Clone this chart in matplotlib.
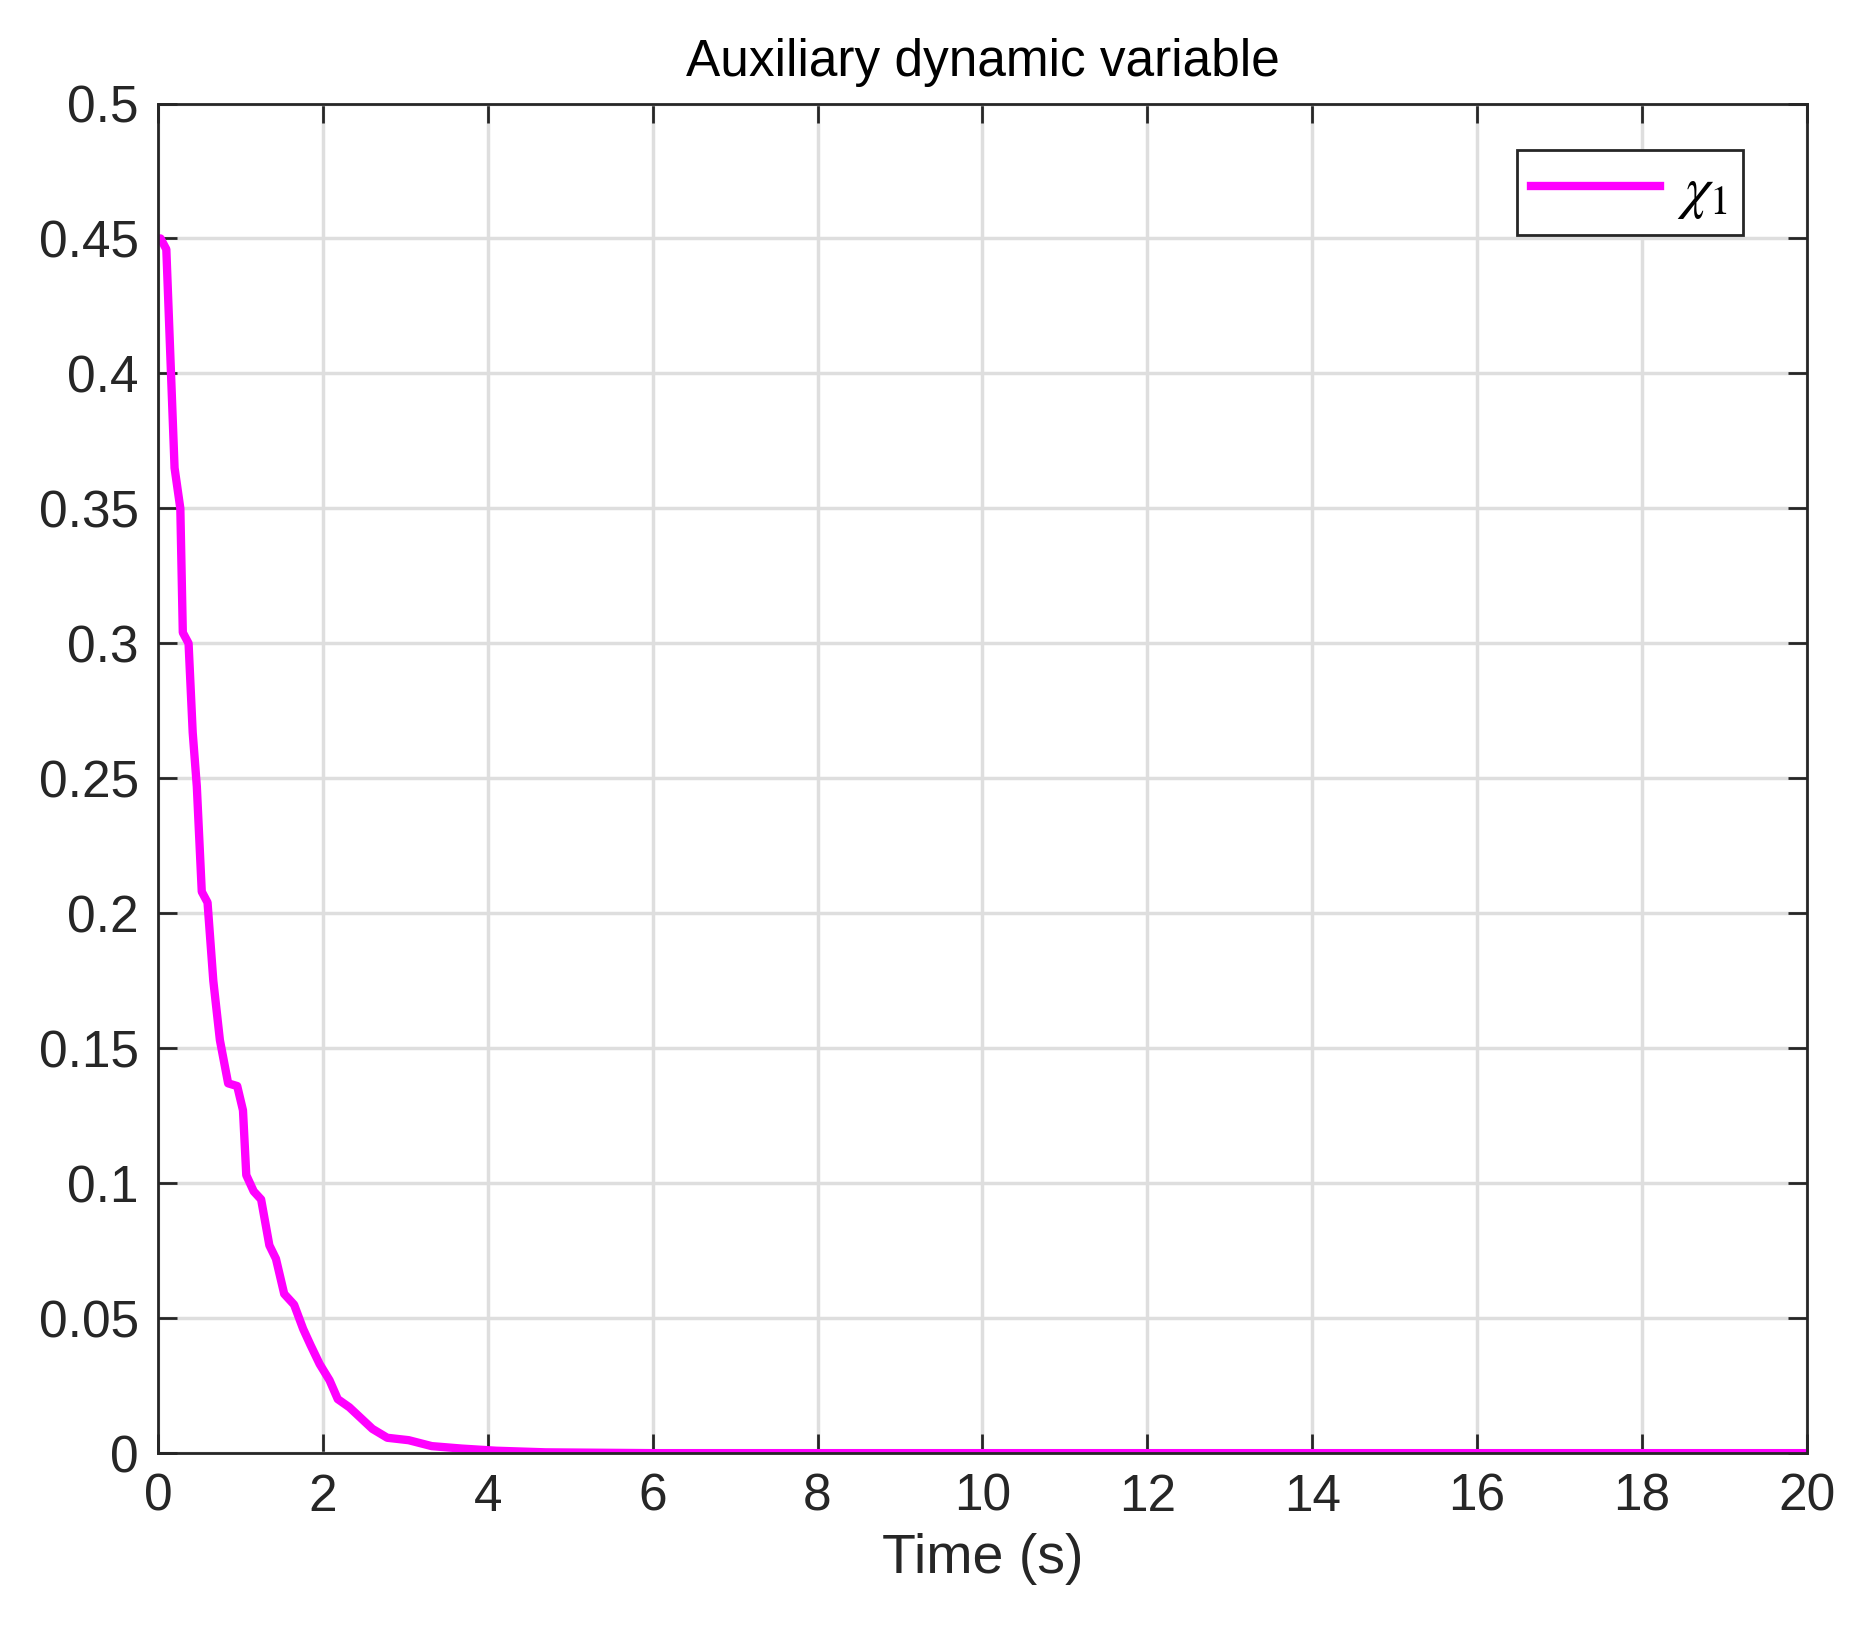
import matplotlib.pyplot as plt
import numpy as np

plt.rcParams['font.family'] = ['Liberation Sans', 'DejaVu Sans']
plt.rcParams['mathtext.fontset'] = 'stix'

t = [0, 0.03, 0.1, 0.2, 0.27, 0.3, 0.37, 0.42, 0.47, 0.53, 0.6, 0.67, 0.75, 0.85,
     0.96, 1.03, 1.07, 1.16, 1.25, 1.35, 1.43, 1.53, 1.65, 1.76, 1.85, 1.96, 2.08,
     2.18, 2.32, 2.46, 2.6, 2.78, 3.04, 3.32, 3.68, 4.1, 4.7, 6, 10, 20]
chi1 = [0.45, 0.45, 0.446, 0.365, 0.35, 0.304, 0.3, 0.267, 0.247, 0.208, 0.204,
        0.175, 0.153, 0.137, 0.136, 0.127, 0.103, 0.097, 0.094, 0.077, 0.072, 0.059,
        0.055, 0.046, 0.040, 0.033, 0.027, 0.020, 0.017, 0.013, 0.009, 0.0057,
        0.0048, 0.0026, 0.0017, 0.0009, 0.0003, 0.0, 0.0, 0.0]

fig = plt.figure(figsize=(18.51, 16.30), dpi=100)
ax = fig.add_axes([0.0854, 0.1085, 0.8907, 0.828])
ax.plot(t, chi1, color='#ff00ff', lw=6, label=r'$\chi_1$')

ax.set_xlim(0, 20)
ax.set_ylim(0, 0.5)
ax.set_xticks(np.arange(0, 21, 2))
ax.set_yticks(np.arange(0, 0.51, 0.05))
ax.set_yticklabels(['0', '0.05', '0.1', '0.15', '0.2', '0.25', '0.3', '0.35', '0.4', '0.45', '0.5'])
ax.grid(True, color='#dedede', lw=2.5)
ax.set_axisbelow(True)
ax.tick_params(direction='in', length=14, width=2, top=True, right=True,
               labelsize=37, colors='#262626', pad=14)
for s in ax.spines.values():
    s.set_linewidth(2)
    s.set_color('#262626')

ax.set_title('Auxiliary dynamic variable', fontsize=37, pad=20)
ax.set_xlabel('Time (s)', fontsize=40, color='#262626', labelpad=8)
leg = ax.legend(loc='upper right', fontsize=42, handlelength=2.2, handletextpad=0.3,
                fancybox=False, framealpha=1, borderpad=0.25,
                bbox_to_anchor=(0.979, 0.987))
leg.get_frame().set_edgecolor('#262626')
leg.get_frame().set_linewidth(2)

fig.savefig('out.png')
